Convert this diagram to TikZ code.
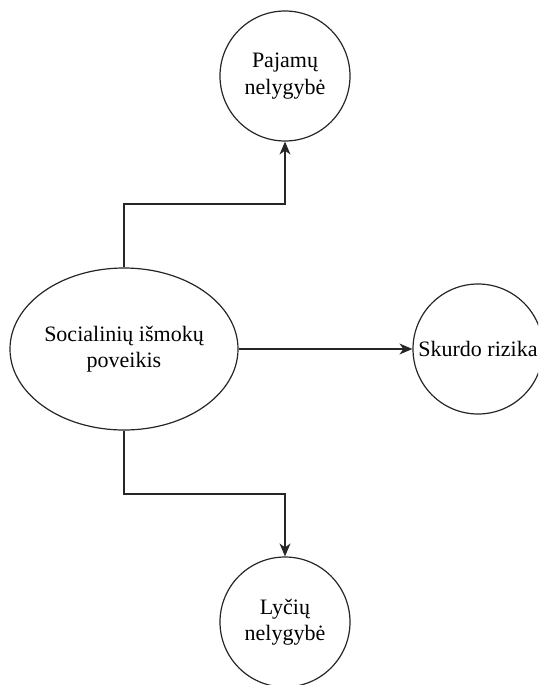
\documentclass[tikz,border=0pt]{standalone}
\usepackage{fontspec}
\setmainfont{Liberation Serif}
\newfontfamily\tnr{Liberation Serif}
\usetikzlibrary{shapes.geometric,arrows.meta}
\begin{document}
\begin{tikzpicture}[x=1pt,y=-1pt,
  shp/.style={draw=black!85,line width=1.2pt,inner sep=0pt},
  circ/.style={shp,circle,minimum size=130pt,align=center,font=\tnr\fontsize{22}{26.4}\selectfont},
  ell/.style={shp,ellipse,minimum width=228pt,minimum height=162pt},
  txt/.style={align=center,inner sep=0pt,font=\tnr\fontsize{22}{26.4}\selectfont},
  arr/.style={draw=black!85,line width=1.2pt,-{Stealth[length=13pt,width=11pt,inset=4pt]}}]
\useasboundingbox (0,0) rectangle (538,685);
\clip (0,0) rectangle (538,685);
\node[circ] (pay) at (285,76) {Pajamų\\nelygybė};
\node[ell] (soc) at (124,349) {};
\node[txt] (soct) at (124,349) {Socialinių išmokų\\poveikis};
\node[circ] (sku) at (478,349) {Skurdo rizika};
\node[circ] (lyc) at (285,622) {Lyčių\\nelygybė};
\coordinate (k1) at (285,204);
\coordinate (k2) at (285,494);
\draw[arr] (soc.north) |- (k1) -- (pay.south);
\draw[arr] (soc.east) -- (sku.west);
\draw[arr] (soc.south) |- (k2) -- (lyc.north);
\end{tikzpicture}
\end{document}
